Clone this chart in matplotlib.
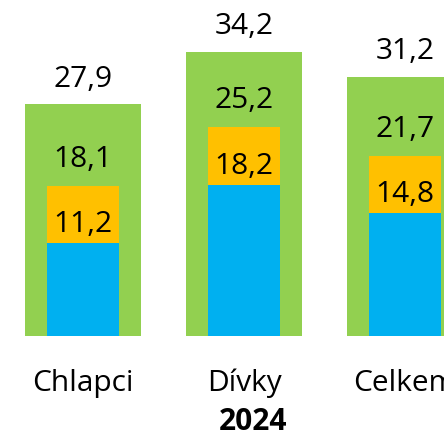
import matplotlib.pyplot as plt

# data
categories = ['Chlapci', 'Dívky', 'Celkem']
total = [27.9, 34.2, 31.2]
mid = [18.1, 25.2, 21.7]
low = [11.2, 18.2, 14.8]
year = '2024'

plt.rcParams['font.family'] = ['Open Sans', 'DejaVu Sans']

fig = plt.figure(figsize=(4.44, 4.31), dpi=100)
ax = fig.add_axes([0, 0, 1, 1])

x = list(range(len(categories)))
ax.bar(x, total, width=0.72, color='#92D050')
ax.bar(x, mid, width=0.4435, color='#FFC000')
ax.bar(x, low, width=0.4435, color='#00B0F0')

fs = 21.5
for xi, v in zip(x, total):
    ax.annotate(f'{v:.1f}'.replace('.', ','), (xi, v), xytext=(0, 13.2),
                textcoords='offset points', ha='center', va='baseline', fontsize=fs)
for xi, v in zip(x, mid):
    ax.annotate(f'{v:.1f}'.replace('.', ','), (xi, v), xytext=(0, 14.2),
                textcoords='offset points', ha='center', va='baseline', fontsize=fs)
for xi, v in zip(x, low):
    ax.annotate(f'{v:.1f}'.replace('.', ','), (xi, v), xytext=(0, 8.4),
                textcoords='offset points', ha='center', va='baseline', fontsize=fs)

# category labels
trans = ax.get_xaxis_transform()
for xi, c in zip(x, categories):
    ax.text(xi, 0.0928, c, transform=trans, ha='center', va='baseline', fontsize=fs)
ax.text(0.571, 0.003, year, transform=ax.transAxes, ha='center', va='baseline',
        fontsize=fs, fontweight='bold')

ax.set_xlim(-0.5155, 2.242)
ax.set_ylim(-11.31, 40.55)
ax.axis('off')

fig.savefig('out.png', dpi=100)
